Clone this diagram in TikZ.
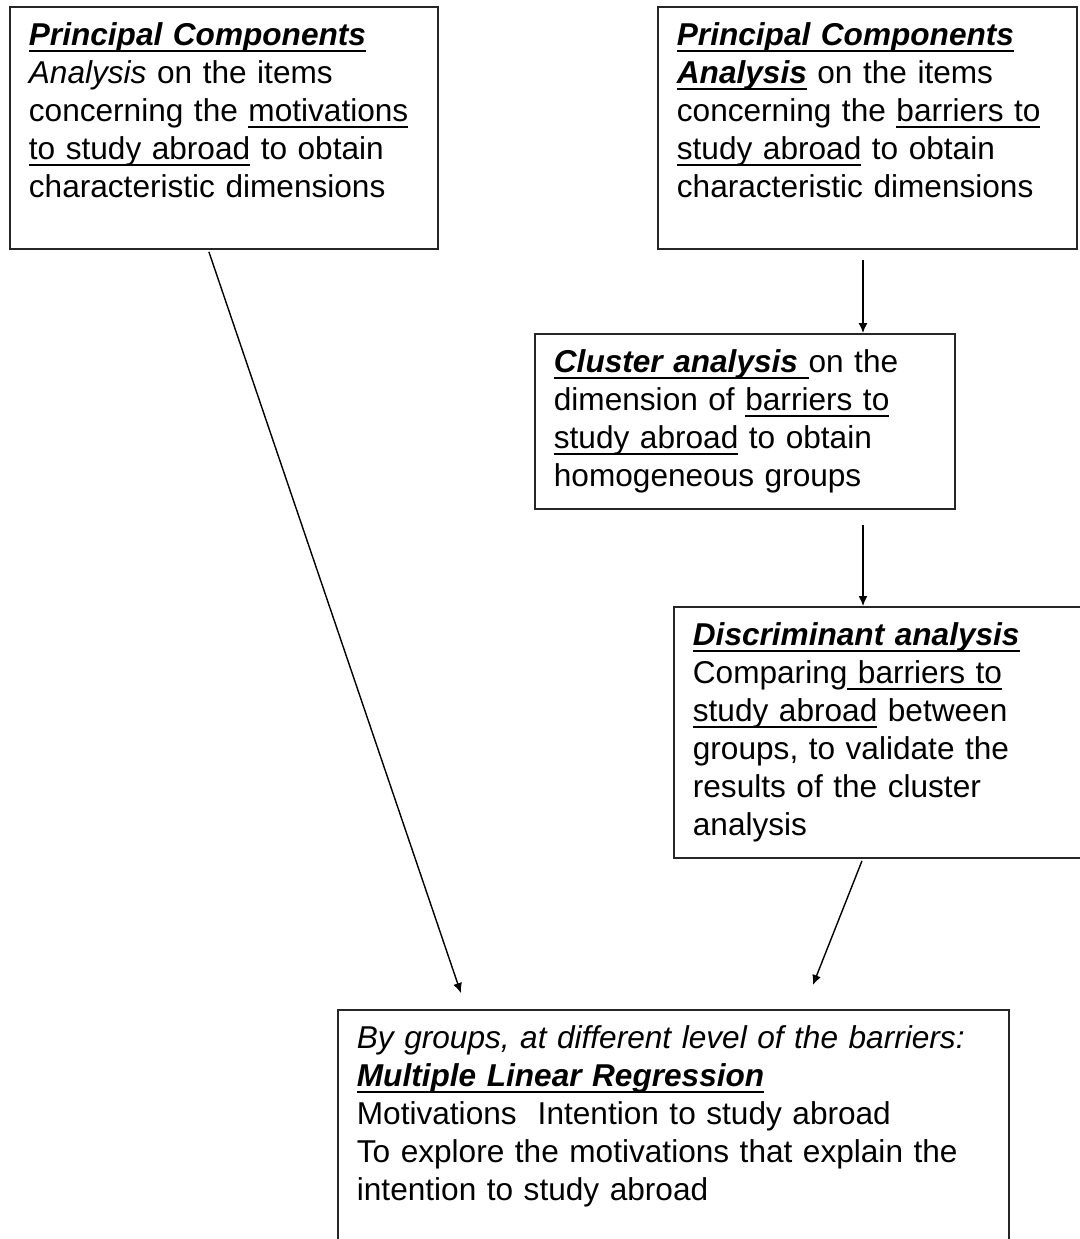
\documentclass[tikz,border=0pt]{standalone}
\usepackage{fontspec}
\setmainfont{Liberation Sans}
\usepackage{tikz}
\usetikzlibrary{arrows.meta,positioning,calc}

\newsavebox{\ulnbox}
\newcommand{\uln}[1]{\leavevmode\sbox{\ulnbox}{#1}\rlap{\rule[-3pt]{\wd\ulnbox}{0.8pt}}\usebox{\ulnbox}}
\newcommand{\head}[1]{\textbf{\textit{\uln{#1}}}}

\begin{document}
\begin{tikzpicture}[
    x=0.5pt, y=0.5pt,
    box/.style={rectangle, draw=black!85, line width=0.9pt, anchor=north west, align=left,
        font=\fontsize{15.8pt}{19pt}\selectfont, inner xsep=9.5pt, inner ysep=8.5pt, text height=11pt},
    arrow/.style={-{Latex[length=5pt,width=4.5pt]}, line width=0.7pt}
]
\clip (0,0) rectangle (1080,-1239);

% Principal components
\node[box, text width=195pt, text depth=93pt] (pcamot) at (9,-6) {\head{Principal Components}\\
\textit{Analysis} on the items\\
concerning the \uln{motivations}\\
\uln{to study abroad} to obtain\\
characteristic dimensions};
\node[box, text width=190.5pt, text depth=93pt] (pcabar) at (657,-6) {\head{Principal Components}\\
\head{Analysis} on the items\\
concerning the \uln{barriers to}\\
\uln{study abroad} to obtain\\
characteristic dimensions};

% Cluster and discriminant
\node[box, text width=191pt, text depth=59.5pt] (cluster) at (534,-333) {\head{Cluster analysis }on the\\
dimension of \uln{barriers to}\\
\uln{study abroad} to obtain\\
homogeneous groups};
\node[box, text width=191pt, text depth=97.5pt] (discr) at (673,-606) {\head{Discriminant analysis}\\
Comparing\uln{ barriers to}\\
\uln{study abroad} between\\
groups, to validate the\\
results of the cluster\\
analysis};

% Regression
\node[box, text width=316.5pt, text depth=102pt] (regr) at (337,-1009) {\textit{By groups, at different level of the barriers:}\\
\head{Multiple Linear Regression}\\
Motivations\ \ Intention to study abroad\\
To explore the motivations that explain the\\
intention to study abroad};

\coordinate (col) at (863,0);

\draw[arrow] ($(pcamot.south)+(-15,-2)$) -- ($(regr.north)+(-212.5,16)$);
\draw[arrow] ($(col |- pcabar.south)+(0,-10)$) -- (col |- cluster.north);
\draw[arrow] ($(col |- cluster.south)+(0,-15)$) -- (col |- discr.north);
\draw[arrow] ($(col |- discr.south)+(-1,-2)$) -- ($(regr.north)+(139.5,24)$);

\end{tikzpicture}
\end{document}
